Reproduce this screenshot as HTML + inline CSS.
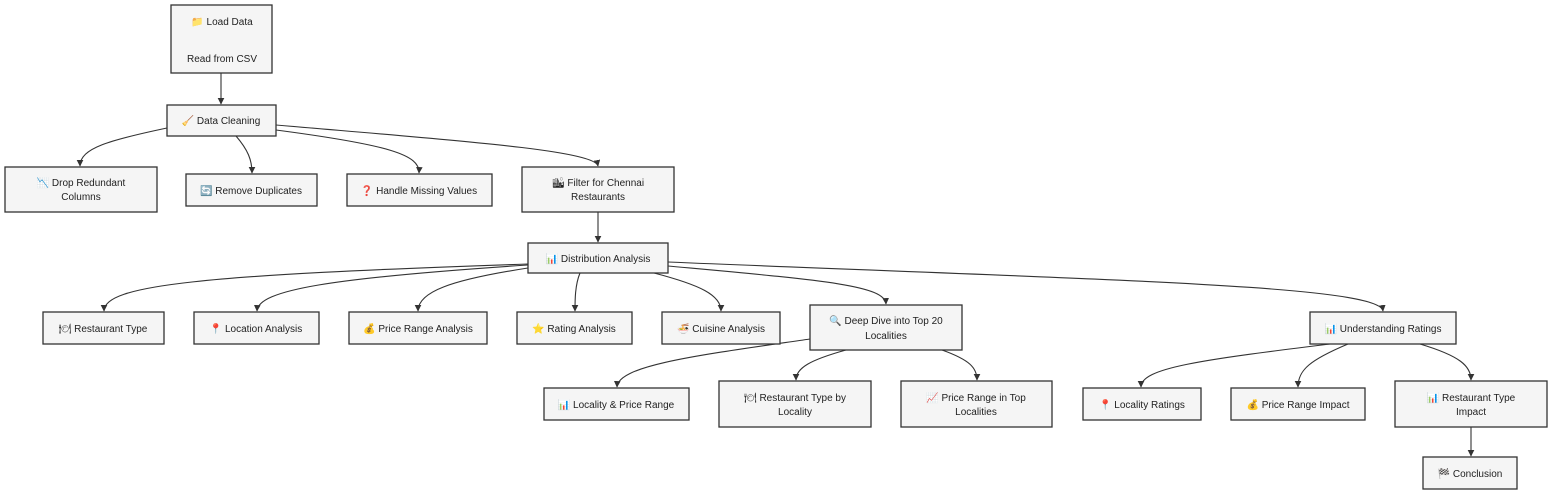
<!DOCTYPE html>
<html><head><meta charset="utf-8"><style>
html,body{margin:0;padding:0;background:#fff;}
svg{display:block}
text{font-family:"Liberation Sans","DejaVu Sans",sans-serif;font-size:10px;fill:#222;text-anchor:middle;}
rect{fill:#f5f5f5;stroke:#333;stroke-width:1.3;}
path.e{fill:none;stroke:#333;stroke-width:1.1;marker-end:url(#a);}
</style></head><body>
<svg width="1568" height="502" viewBox="0 0 1568 502">
<defs><marker id="a" viewBox="0 0 10 10" refX="9" refY="5" markerWidth="6" markerHeight="6" orient="auto"><path d="M0,0L10,5L0,10z" fill="#333"/></marker></defs>
<!-- edges -->
<path class="e" d="M221,73 L221,104"/>
<path class="e" d="M167,128 C110,140 80,148 80,166"/>
<path class="e" d="M236,136 C248,150 252,160 252,173"/>
<path class="e" d="M276,130 C390,145 420,155 419,173"/>
<path class="e" d="M276,125 C450,140 595,150 598,166"/>
<path class="e" d="M598,212 L598,242"/>
<path class="e" d="M528,264 C200,275 104,285 104,311"/>
<path class="e" d="M528,265 C330,278 258,290 257,311"/>
<path class="e" d="M528,268 C450,280 418,292 418,311"/>
<path class="e" d="M580,273 C575,285 575,300 575,311"/>
<path class="e" d="M654,273 C700,285 721,295 721,311"/>
<path class="e" d="M668,266 C820,280 885,285 886,304"/>
<path class="e" d="M668,262 C1100,280 1380,285 1383,311"/>
<path class="e" d="M810,339 C700,355 618,365 617,387"/>
<path class="e" d="M846,350 C810,360 796,368 796,380"/>
<path class="e" d="M942,350 C970,360 977,368 977,380"/>
<path class="e" d="M1330,344 C1200,360 1141,368 1141,387"/>
<path class="e" d="M1348,344 C1310,360 1298,370 1298,387"/>
<path class="e" d="M1420,344 C1460,356 1471,366 1471,380"/>
<path class="e" d="M1471,427 L1471,456"/>
<!-- nodes -->
<rect x="171" y="5" width="101" height="68"/><text x="222" y="25">📁 Load Data</text><text x="222" y="62">Read from CSV</text>
<rect x="167" y="105" width="109" height="31"/><text x="221" y="124">🧹 Data Cleaning</text>
<rect x="5" y="167" width="152" height="45"/><text x="81" y="186">📉 Drop Redundant</text><text x="81" y="200">Columns</text>
<rect x="186" y="174" width="131" height="32"/><text x="251" y="194">🔄 Remove Duplicates</text>
<rect x="347" y="174" width="145" height="32"/><text x="419" y="194">❓ Handle Missing Values</text>
<rect x="522" y="167" width="152" height="45"/><text x="598" y="186">🏙 Filter for Chennai</text><text x="598" y="200">Restaurants</text>
<rect x="528" y="243" width="140" height="30"/><text x="598" y="262">📊 Distribution Analysis</text>
<rect x="43" y="312" width="121" height="32"/><text x="103" y="332">🍽 Restaurant Type</text>
<rect x="194" y="312" width="125" height="32"/><text x="256" y="332">📍 Location Analysis</text>
<rect x="349" y="312" width="138" height="32"/><text x="418" y="332">💰 Price Range Analysis</text>
<rect x="517" y="312" width="115" height="32"/><text x="574" y="332">⭐ Rating Analysis</text>
<rect x="662" y="312" width="118" height="32"/><text x="721" y="332">🍜 Cuisine Analysis</text>
<rect x="810" y="305" width="152" height="45"/><text x="886" y="324">🔍 Deep Dive into Top 20</text><text x="886" y="339">Localities</text>
<rect x="1310" y="312" width="146" height="32"/><text x="1383" y="332">📊 Understanding Ratings</text>
<rect x="544" y="388" width="145" height="32"/><text x="616" y="408">📊 Locality &amp; Price Range</text>
<rect x="719" y="381" width="152" height="46"/><text x="795" y="401">🍽 Restaurant Type by</text><text x="795" y="415">Locality</text>
<rect x="901" y="381" width="151" height="46"/><text x="976" y="401">📈 Price Range in Top</text><text x="976" y="415">Localities</text>
<rect x="1083" y="388" width="118" height="32"/><text x="1142" y="408">📍 Locality Ratings</text>
<rect x="1231" y="388" width="134" height="32"/><text x="1298" y="408">💰 Price Range Impact</text>
<rect x="1395" y="381" width="152" height="46"/><text x="1471" y="401">📊 Restaurant Type</text><text x="1471" y="415">Impact</text>
<rect x="1423" y="457" width="94" height="32"/><text x="1470" y="477">🏁 Conclusion</text>
</svg>
</body></html>
